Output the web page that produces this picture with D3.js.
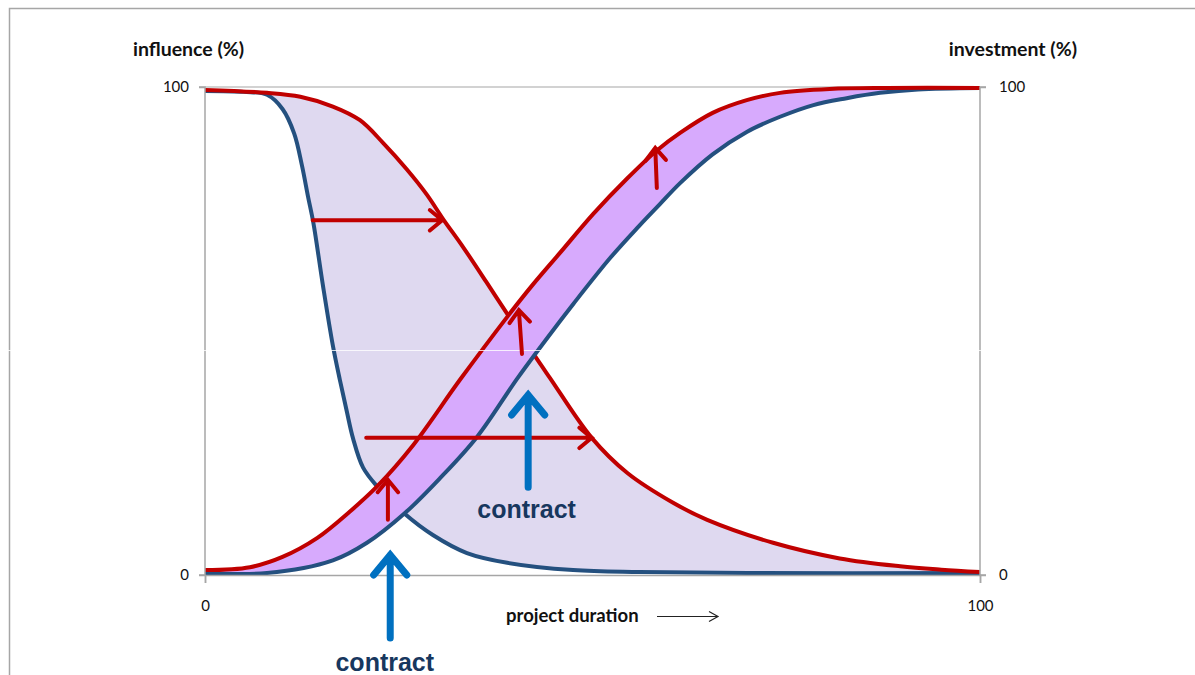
<!DOCTYPE html>
<html>
<head>
<meta charset="utf-8">
<script src="https://cdn.jsdelivr.net/npm/d3@7"></script>
<style>
  body { margin: 0; background: #fff; }
  svg { display: block; }
</style>
</head>
<body>
<div class="grafico"></div>
<script>
// data: [project duration %, value %]
var influenciaAzul = [[0,99.2],[5,99],[8,98.4],[10,95.5],[11.5,90.5],[12.5,84],[13.3,77.5],[14,72],[15.2,59.5],[16.5,47],[17.4,40],[18.3,33.5],[19.1,28],[20.4,22],[22.3,18],[25.8,12.5],[29.4,8.2],[33.8,4.5],[39,2.5],[47.5,1],[56,0.6],[70,0.4],[100,0.4]];
var influenciaRoja = [[0,99.4],[8,98.8],[12.3,98],[16.5,96],[20,93.2],[23,88.5],[26,83.2],[28.6,78],[30.7,73],[33.3,67.2],[36.4,59.8],[39,53.5],[42.3,45.5],[44.5,40.4],[49.9,28.1],[54.5,20.9],[60.4,14.8],[64.8,11.3],[73.3,6.6],[81.9,3.4],[89.7,1.8],[95,1.1],[100,0.6]];
var inversionRoja = [[0,1],[5.8,1.6],[10,3.7],[14.5,7.6],[18.7,13],[22.3,18.3],[26.8,26.5],[32.9,40],[39,52.9],[42.3,59.5],[45.8,66],[50.1,74],[54.5,81.3],[58.3,87],[61.3,90.6],[65.5,94.7],[69.9,97.3],[74.2,98.8],[80.6,99.6],[88,99.8],[100,99.8]];
var inversionAzul = [[0,0.4],[8,0.4],[16.5,3],[20.9,6.6],[25.8,12.7],[30.3,19.8],[35.1,28.3],[40.4,40.5],[45.8,52],[47.5,55.5],[52.3,65],[56,71.5],[58.7,76],[61.3,80.3],[65.5,86.2],[69.9,90.8],[74.2,93.9],[78.5,96.3],[82.8,97.7],[87.1,98.8],[92,99.5],[100,99.8]];

// annotation arrows: [x1, y1, x2, y2] in data units
var flechasRojas = [[13.9,72.7,30.6,72.7],[20.8,28.1,49.9,28.1],[23.6,11.3,23.6,19.5],[40.9,45.3,40.5,54.3],[58.3,79.3,58.1,87.5]];
var flechasAzules = [[23.9,-12.9,23.9,4.1],[41.7,18,41.7,36.9]];
var etiquetasContrato = [[23.2,-19.6,"contract"],[41.5,11.7,"contract"]];

var ticksY = [0, 100];
var ticksX = [0, 100];

var width = 1195, height = 675;

var xScale = d3.scaleLinear().domain([0, 100]).range([205, 980]);
var yScale = d3.scaleLinear().domain([0, 100]).range([575, 87]);

var svg = d3.select(".grafico")
  .append("svg")
  .attr("width", width)
  .attr("height", height);

svg.append("rect").attr("width", width).attr("height", height).attr("fill", "#fff");

// marco
svg.append("path")
  .attr("d", "M9.5," + height + "V8.5H" + width)
  .attr("fill", "none")
  .attr("stroke", "#a6a6a6")
  .attr("stroke-width", 1.5);

var line = d3.line()
  .x(function(d) { return xScale(d[0]); })
  .y(function(d) { return yScale(d[1]); })
  .curve(d3.curveCatmullRom.alpha(0.5));

function banda(bajo, alto) {
  // closed area between two curves
  var ida = line(alto);
  var vuelta = line(bajo.slice().reverse());
  return ida + "L" + vuelta.slice(1) + "Z";
}

// top border of plot
svg.append("line")
  .attr("x1", xScale(0)).attr("x2", xScale(100))
  .attr("y1", yScale(100)).attr("y2", yScale(100))
  .attr("stroke", "#a6a6a6").attr("stroke-width", 1.2);

// influence area
svg.append("path")
  .attr("d", banda(influenciaAzul, influenciaRoja))
  .attr("fill", "#dfd9f0");

svg.append("path").datum(influenciaAzul)
  .attr("fill", "none").attr("stroke", "#24507f").attr("stroke-width", 4).attr("d", line);
svg.append("path").datum(influenciaRoja)
  .attr("fill", "none").attr("stroke", "#c00000").attr("stroke-width", 4).attr("d", line);

// investment band
svg.append("path")
  .attr("d", banda(inversionAzul, inversionRoja))
  .attr("fill", "#d7aafd");

svg.append("path").datum(inversionAzul)
  .attr("fill", "none").attr("stroke", "#24507f").attr("stroke-width", 4).attr("d", line);
svg.append("path").datum(inversionRoja)
  .attr("fill", "none").attr("stroke", "#c00000").attr("stroke-width", 4).attr("d", line);

// axes
var ejeIzq = svg.append("g")
  .attr("transform", "translate(" + xScale(0) + ",0)")
  .call(d3.axisLeft(yScale).tickValues(ticksY).tickSize(6).tickPadding(10).tickFormat(d3.format("d")));
var ejeDer = svg.append("g")
  .attr("transform", "translate(" + xScale(100) + ",0)")
  .call(d3.axisRight(yScale).tickValues(ticksY).tickSize(6).tickPadding(13).tickFormat(d3.format("d")));
var ejeInf = svg.append("g")
  .attr("transform", "translate(0," + yScale(0) + ")")
  .call(d3.axisBottom(xScale).tickValues(ticksX).tickSize(8).tickPadding(17).tickFormat(d3.format("d")));

[ejeIzq, ejeDer, ejeInf].forEach(function(g) {
  g.select(".domain").attr("stroke", "#a6a6a6").attr("stroke-width", 1.5);
  g.selectAll(".tick line").attr("stroke", "#a6a6a6").attr("stroke-width", 1.5);
  g.selectAll("text").attr("font-family", "Lato, 'Open Sans', sans-serif").attr("font-size", 15).attr("fill", "#111");
});
ejeIzq.select(".domain").attr("d", "M-6," + yScale(100) + "H0V" + yScale(0) + "H-6");
ejeDer.select(".domain").attr("d", "M6," + yScale(100) + "H0V" + yScale(0) + "H6");

// white artifact line
svg.append("line").attr("x1", 0).attr("x2", width).attr("y1", 350.5).attr("y2", 350.5)
  .attr("stroke", "#fff").attr("stroke-width", 1).attr("opacity", 0.8);

// arrows
function flecha(g, d, color, ancho, cabeza, cap) {
  var x1 = xScale(d[0]), y1 = yScale(d[1]), x2 = xScale(d[2]), y2 = yScale(d[3]);
  var ang = Math.atan2(y2 - y1, x2 - x1);
  var a1 = ang + Math.PI * 0.78, a2 = ang - Math.PI * 0.78;
  g.append("path")
    .attr("d", "M" + x1 + "," + y1 + "L" + x2 + "," + y2 +
      "M" + (x2 + cabeza * Math.cos(a1)) + "," + (y2 + cabeza * Math.sin(a1)) +
      "L" + x2 + "," + y2 +
      "L" + (x2 + cabeza * Math.cos(a2)) + "," + (y2 + cabeza * Math.sin(a2)))
    .attr("fill", "none")
    .attr("stroke", color)
    .attr("stroke-width", ancho)
    .attr("stroke-linecap", cap)
    .attr("stroke-linejoin", "miter");
}

var gFlechas = svg.append("g");
flechasRojas.forEach(function(d) { flecha(gFlechas, d, "#c00000", 4, 16, "round"); });
flechasAzules.forEach(function(d) { flecha(gFlechas, d, "#0070c0", 7, 26, "round"); });

svg.selectAll(".contrato")
  .data(etiquetasContrato)
  .enter().append("text")
  .attr("class", "contrato")
  .attr("x", function(d) { return xScale(d[0]); })
  .attr("y", function(d) { return yScale(d[1]); })
  .attr("text-anchor", "middle")
  .attr("font-family", "'Liberation Sans', Arial, sans-serif")
  .attr("font-weight", "bold")
  .attr("font-size", 25)
  .attr("fill", "#17375e")
  .text(function(d) { return d[2]; });

// titles
svg.append("text").attr("x", 133).attr("y", 56)
  .attr("font-family", "Lato, sans-serif").attr("font-weight", "bold").attr("font-size", 19.5)
  .attr("fill", "#111").text("influence (%)");
svg.append("text").attr("x", 1077).attr("y", 56).attr("text-anchor", "end")
  .attr("font-family", "Lato, sans-serif").attr("font-weight", "bold").attr("font-size", 19.5)
  .attr("fill", "#111").text("investment (%)");
svg.append("text").attr("x", 506).attr("y", 622)
  .attr("font-family", "Lato, sans-serif").attr("font-weight", "bold").attr("font-size", 18.5)
  .attr("fill", "#111").text("project duration");
svg.append("path")
  .attr("d", "M657,616.5H718M709,611.5L718,616.5L709,621.5")
  .attr("fill", "none").attr("stroke", "#222").attr("stroke-width", 1.2);
</script>
</body>
</html>
